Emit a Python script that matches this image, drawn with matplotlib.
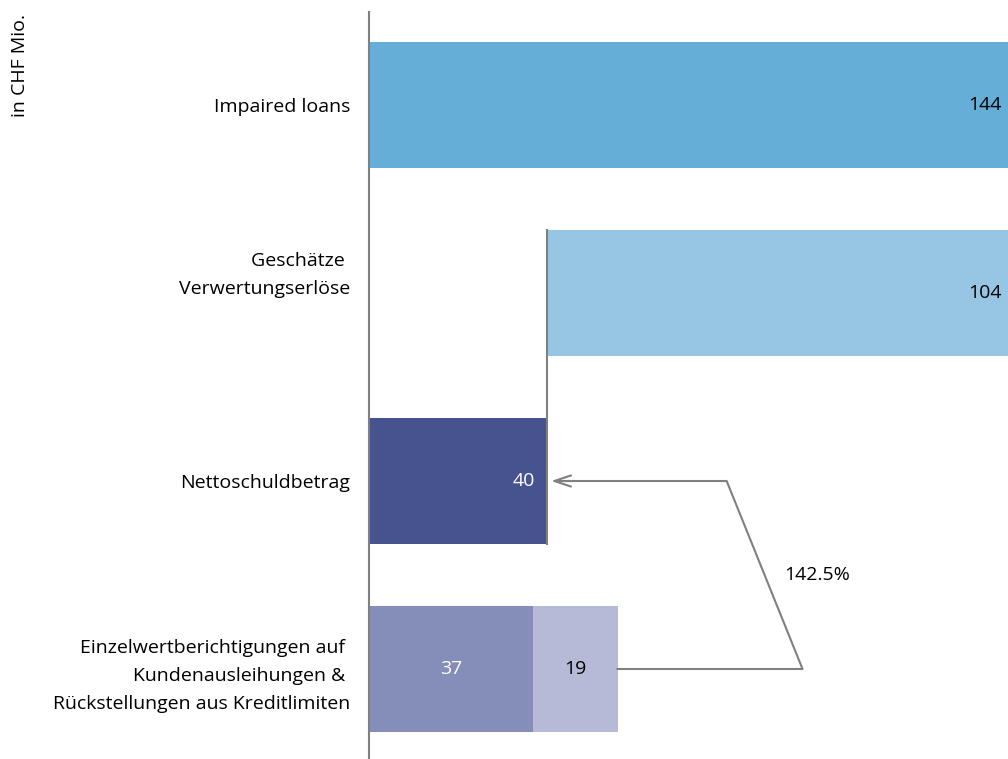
import matplotlib
matplotlib.use("Agg")
import matplotlib.pyplot as plt
from matplotlib.transforms import ScaledTranslation

plt.rcParams["font.family"] = ["Open Sans", "DejaVu Sans"]

categories = ["Impaired loans", "Geschätze \nVerwertungserlöse", "Nettoschuldbetrag",
              "Einzelwertberichtigungen auf \nKundenausleihungen & \nRückstellungen aus Kreditlimiten"]
impaired = 144
recovery = 104
net = 40
ewb = 37
rueck = 19
coverage = "142.5%"

grey = "#808080"

fig = plt.figure(figsize=(10.08, 7.59), dpi=100)
ax = fig.add_axes([369 / 1008, 0, 1 - 369 / 1008, 1 - 12 / 759])

h = 0.675
ax.barh(0, impaired, height=h, color="#64AED8")
ax.barh(1, recovery, left=impaired - recovery, height=h, color="#97C6E4")
ax.barh(2, net, height=h, color="#46538F")
ax.barh(3, ewb, height=h, color="#858EB9")
ax.barh(3, rueck, left=ewb, height=h, color="#B6BAD7")

# connector between recovery bar and net amount
ax.plot([net, net], [1 - h / 2, 2 + h / 2], color=grey, lw=1.5)

# value labels
fs = 14
ax.text(impaired - 1.5, 0, str(impaired), ha="right", va="center", fontsize=fs, color="black")
ax.text(impaired - 1.5, 1, str(recovery), ha="right", va="center", fontsize=fs, color="black")
ax.text(net - 2.6, 2, str(net), ha="right", va="center", fontsize=fs, color="white")
ax.text(ewb / 2, 3, str(ewb), ha="center", va="center", fontsize=fs, color="white")
ax.text(ewb + rueck / 2, 3, str(rueck), ha="center", va="center", fontsize=fs, color="black")

# coverage arrow
total = ewb + rueck
ax.plot([total, 97.7, 80.6, net + 4], [3, 3, 2, 2], color=grey, lw=1.5)
ax.annotate("", xy=(net + 0.4, 2), xytext=(net + 7, 2),
            arrowprops=dict(arrowstyle="->,head_length=1.2,head_width=0.4", color=grey, lw=1.5))
ax.text(93.5, 2.5, coverage, ha="left", va="center", fontsize=fs, color="black")

ax.set_xlim(0, 144)
ax.set_ylim(3 + 90 / 188, -93 / 188)
ax.set_yticks(range(len(categories)))
ax.set_yticklabels(categories, fontsize=fs, linespacing=1.7)
ax.tick_params(axis="y", length=0, pad=13.5)
ax.set_xticks([])
for s in ["top", "right", "bottom"]:
    ax.spines[s].set_visible(False)
ax.spines["left"].set_color(grey)
ax.spines["left"].set_linewidth(1.5)

# the second label sits a bit above its bar in the original
lbl = ax.get_yticklabels()[1]
lbl.set_transform(lbl.get_transform() + ScaledTranslation(0, 0.25, fig.dpi_scale_trans))

fig.text(20 / 1008, 1 - 14 / 759, "in CHF Mio.", rotation=90, ha="center", va="top", fontsize=14)

fig.savefig("out.png", dpi=100)
